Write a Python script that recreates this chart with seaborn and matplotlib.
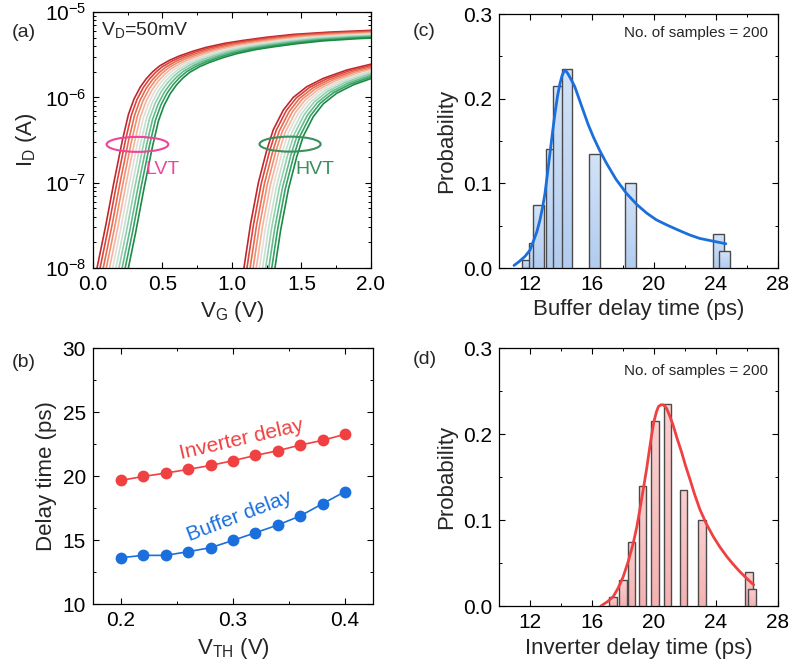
import numpy as np
import pandas as pd
import matplotlib
matplotlib.use("Agg")
import matplotlib.pyplot as plt
import seaborn as sns
from matplotlib.patches import Ellipse
from matplotlib.colors import LinearSegmentedColormap
from matplotlib.ticker import MultipleLocator, LogLocator, NullFormatter, FormatStrFormatter

# ------------------------------------------------
# data
# ------------------------------------------------

# (a) leftmost (lowest Vth) transfer curve of each family
lvt_vg = [0.000, 0.029, 0.092, 0.150, 0.212, 0.255, 0.295, 0.340, 0.384, 0.430, 0.480,
          0.550, 0.620, 0.720, 0.815, 0.950, 1.080, 1.250, 1.440, 1.700, 2.000]
lvt_id = [5.9e-9, 1.0e-8, 3.16e-8, 1.0e-7, 3.16e-7, 6.3e-7, 9.55e-7, 1.32e-6, 1.66e-6, 2.0e-6, 2.34e-6,
          2.72e-6, 3.05e-6, 3.48e-6, 3.86e-6, 4.31e-6, 4.65e-6, 5.07e-6, 5.47e-6, 5.82e-6, 6.10e-6]
hvt_vg = [1.058, 1.086, 1.134, 1.190, 1.250, 1.297, 1.369, 1.441, 1.537, 1.657, 1.825, 2.000]
hvt_id = [5.0e-9, 1.0e-8, 3.3e-8, 1.0e-7, 2.4e-7, 4.17e-7, 7.08e-7, 1.0e-6, 1.33e-6, 1.67e-6, 2.09e-6, 2.45e-6]
# per-curve Vth offset and on-current factor (red -> green)
vth_shift = [0.0, 0.021, 0.043, 0.064, 0.086, 0.108, 0.130, 0.151, 0.173, 0.194, 0.216]
ion_factor = [1.0, 0.983, 0.966, 0.950, 0.934, 0.918, 0.902, 0.886, 0.870, 0.855, 0.840]
curve_colors = ["#c0272d", "#d8453b", "#e76a50", "#f08e70", "#f5b59c", "#e6dcd8",
                "#c2e2cf", "#94cfae", "#62b98a", "#35a064", "#1b8a45"]

# (b) delay vs Vth
vth = [0.20, 0.22, 0.24, 0.26, 0.28, 0.30, 0.32, 0.34, 0.36, 0.38, 0.40]
inverter_delay = [19.66, 19.97, 20.23, 20.52, 20.83, 21.2, 21.61, 21.98, 22.42, 22.79, 23.26]
buffer_delay = [13.62, 13.8, 13.8, 14.09, 14.4, 14.97, 15.57, 16.17, 16.88, 17.84, 18.78]

# (c) buffer delay histogram + fit
buf_centers = [11.81, 12.30, 12.56, 13.38, 13.81, 14.39, 16.17, 18.49, 24.17, 24.56]
buf_prob = [0.01, 0.03, 0.075, 0.14, 0.215, 0.235, 0.135, 0.10, 0.04, 0.02]
buf_fit_x = [10.97, 11.3, 11.68, 12.0, 12.21, 12.45, 12.65, 12.82, 12.97, 13.13, 13.29,
             13.45, 13.61, 13.78, 13.94, 14.07, 14.19, 14.32, 14.47, 14.68, 14.9, 15.15,
             15.44, 15.75, 16.09, 16.5, 16.95, 17.55, 18.24, 18.9, 19.53, 20.15, 20.82,
             21.55, 22.32, 22.95, 23.61, 24.15, 24.65]
buf_fit_y = [0.003, 0.0075, 0.0137, 0.021, 0.031, 0.043, 0.057, 0.072, 0.088, 0.111, 0.135,
             0.159, 0.182, 0.203, 0.218, 0.227, 0.232, 0.233, 0.229, 0.222, 0.214, 0.201,
             0.186, 0.170, 0.155, 0.139, 0.1235, 0.105, 0.088, 0.075, 0.065, 0.057, 0.051,
             0.045, 0.039, 0.035, 0.0325, 0.0305, 0.0286]

# (d) inverter delay histogram + fit
inv_centers = [17.36, 18.0, 18.55, 19.27, 20.08, 20.89, 21.92, 23.11, 26.16, 26.36]
inv_prob = [0.01, 0.03, 0.075, 0.14, 0.215, 0.235, 0.135, 0.10, 0.04, 0.02]
inv_fit_x = [16.58, 17.0, 17.38, 17.7, 18.02, 18.35, 18.67, 18.9, 19.1, 19.32, 19.53, 19.7,
             19.85, 20.0, 20.17, 20.3, 20.45, 20.62, 20.82, 21.03, 21.25, 21.5, 21.79, 22.05,
             22.32, 22.63, 22.97, 23.38, 23.83, 24.25, 24.69, 25.1, 25.55, 26.0, 26.45]
inv_fit_y = [0.0, 0.005, 0.011, 0.021, 0.034, 0.052, 0.073, 0.092, 0.1125, 0.136, 0.159, 0.18,
             0.198, 0.214, 0.226, 0.232, 0.234, 0.234, 0.23, 0.221, 0.21, 0.195, 0.179, 0.163,
             0.148, 0.13, 0.1125, 0.096, 0.081, 0.069, 0.058, 0.049, 0.040, 0.032, 0.0246]

# ------------------------------------------------
# style
# ------------------------------------------------

sns.set_theme(style="ticks")
plt.rcParams["font.family"] = ["Liberation Sans", "DejaVu Sans"]
plt.rcParams.update({
    "mathtext.fontset": "custom",
    "mathtext.rm": "Liberation Sans",
    "mathtext.it": "Liberation Sans:italic",
    "mathtext.bf": "Liberation Sans:bold",
    "mathtext.default": "regular",
    "xtick.direction": "in",
    "ytick.direction": "in",
    "xtick.top": True,
    "ytick.right": True,
    "xtick.major.size": 4,
    "ytick.major.size": 4,
    "xtick.minor.size": 2.2,
    "ytick.minor.size": 2.2,
    "xtick.major.width": 0.8,
    "ytick.major.width": 0.8,
    "xtick.minor.width": 0.7,
    "ytick.minor.width": 0.7,
    "xtick.major.pad": 5,
    "ytick.major.pad": 5,
    "axes.linewidth": 0.9,
    "axes.edgecolor": "black",
    "xtick.color": "black",
    "ytick.color": "black",
    "xtick.labelsize": 15,
    "ytick.labelsize": 15,
    "axes.labelsize": 16,
})

RED = "#ef4141"
BLUE = "#1a6fdc"

fig = plt.figure(figsize=(7.92, 6.70), dpi=100)
ax_a = fig.add_axes([0.1174, 0.600, 0.351, 0.382])
ax_c = fig.add_axes([0.630, 0.600, 0.352, 0.379])
ax_b = fig.add_axes([0.1174, 0.0985, 0.3535, 0.382])
ax_d = fig.add_axes([0.630, 0.0955, 0.352, 0.385])

# ------------------------------------------------
# (a) transfer curves
# ------------------------------------------------

ax_a.set_yscale("log")
for base_vg, base_id in [(lvt_vg, lvt_id), (hvt_vg, hvt_id)]:
    rows = []
    for k, (dv, f) in enumerate(zip(vth_shift, ion_factor)):
        for v, i in zip(base_vg, base_id):
            rows.append({"curve": k, "vg": v + dv, "id": i * f})
    fam = pd.DataFrame(rows)
    sns.lineplot(data=fam, x="vg", y="id", hue="curve", palette=curve_colors,
                 estimator=None, sort=False, legend=False, linewidth=1.2, ax=ax_a)

ax_a.set_xlim(0, 2.0)
ax_a.set_ylim(1e-8, 1e-5)
ax_a.xaxis.set_major_locator(MultipleLocator(0.5))
ax_a.xaxis.set_minor_locator(MultipleLocator(0.25))
ax_a.xaxis.set_major_formatter(FormatStrFormatter("%.1f"))
ax_a.yaxis.set_minor_locator(LogLocator(base=10, subs=np.arange(2, 10)))
ax_a.yaxis.set_minor_formatter(NullFormatter())
ax_a.set_xlabel("V$_{G}$ (V)")
ax_a.set_ylabel("I$_{D}$ (A)")

ax_a.add_patch(Ellipse((0.160, 0.483), 0.222, 0.0586, transform=ax_a.transAxes,
                       fill=False, edgecolor="#f0449a", lw=1.5, zorder=5))
ax_a.add_patch(Ellipse((0.709, 0.484), 0.220, 0.0586, transform=ax_a.transAxes,
                       fill=False, edgecolor="#3a8f5e", lw=1.5, zorder=5))
ax_a.text(0.25, 0.383, "LVT", transform=ax_a.transAxes, color="#f0449a",
          fontsize=14, ha="center", va="center")
ax_a.text(0.80, 0.383, "HVT", transform=ax_a.transAxes, color="#3a8f5e",
          fontsize=14, ha="center", va="center")
ax_a.text(0.03, 0.93, "V$_{D}$=50mV", transform=ax_a.transAxes,
          fontsize=14, ha="left", va="center")

# ------------------------------------------------
# (b) delay vs Vth
# ------------------------------------------------

sns.lineplot(x=vth, y=inverter_delay, color=RED, marker="o", markersize=8.5,
             markeredgewidth=0, linewidth=1.2, ax=ax_b)
sns.lineplot(x=vth, y=buffer_delay, color=BLUE, marker="o", markersize=8.5,
             markeredgewidth=0, linewidth=1.2, ax=ax_b)
ax_b.set_xlim(0.175, 0.425)
ax_b.set_ylim(10, 30)
ax_b.xaxis.set_major_locator(MultipleLocator(0.1))
ax_b.xaxis.set_minor_locator(MultipleLocator(0.05))
ax_b.yaxis.set_major_locator(MultipleLocator(5))
ax_b.yaxis.set_minor_locator(MultipleLocator(2.5))
ax_b.xaxis.set_major_formatter(FormatStrFormatter("%.1f"))
ax_b.set_xlabel("V$_{TH}$ (V)")
ax_b.set_ylabel("Delay time (ps)")
ax_b.text(0.3074, 22.87, "Inverter delay", color=RED, fontsize=15,
          rotation=13, ha="center", va="center", rotation_mode="anchor")
ax_b.text(0.306, 16.875, "Buffer delay", color=BLUE, fontsize=15,
          rotation=21, ha="center", va="center", rotation_mode="anchor")

# ------------------------------------------------
# (c), (d) histograms
# ------------------------------------------------

grad = np.linspace(0, 1, 64).reshape(-1, 1)


def gradient_bars(ax, centers, heights, width, cmap):
    for i, (c, h) in enumerate(zip(centers, heights)):
        rect = ax.bar(c, h, width=width, facecolor="none", edgecolor="#4a4a4a",
                      linewidth=1.0, zorder=3 + 2 * i)[0]
        im = ax.imshow(grad, extent=[c - width / 2, c + width / 2, 0, h], origin="lower",
                       aspect="auto", cmap=cmap, zorder=2 + 2 * i)
        im.set_clip_path(rect)


def hist_axes(ax, xlabel):
    ax.set_xlim(10, 28)
    ax.set_ylim(0, 0.3)
    ax.xaxis.set_major_locator(MultipleLocator(4))
    ax.xaxis.set_minor_locator(MultipleLocator(2))
    ax.yaxis.set_major_locator(MultipleLocator(0.1))
    ax.yaxis.set_minor_locator(MultipleLocator(0.05))
    ax.xaxis.set_major_formatter(FormatStrFormatter("%d"))
    ax.yaxis.set_major_formatter(FormatStrFormatter("%.1f"))
    ax.xaxis.set_ticks([12, 16, 20, 24, 28])
    ax.set_xlabel(xlabel)
    ax.set_ylabel("Probability")


blue_cmap = LinearSegmentedColormap.from_list("bl", ["#b2ccef", "#d3e3f8"])
red_cmap = LinearSegmentedColormap.from_list("rd", ["#f4b2b2", "#fbcfcf"])

gradient_bars(ax_c, buf_centers, buf_prob, 0.69, blue_cmap)
sns.lineplot(x=buf_fit_x, y=buf_fit_y, color=BLUE, linewidth=2, ax=ax_c, zorder=50)
hist_axes(ax_c, "Buffer delay time (ps)")
ax_c.text(0.964, 0.927, "No. of samples = 200", transform=ax_c.transAxes,
          fontsize=11, ha="right", va="center")

gradient_bars(ax_d, inv_centers, inv_prob, 0.5, red_cmap)
sns.lineplot(x=inv_fit_x, y=inv_fit_y, color=RED, linewidth=2, ax=ax_d, zorder=50)
hist_axes(ax_d, "Inverter delay time (ps)")
ax_d.text(0.964, 0.911, "No. of samples = 200", transform=ax_d.transAxes,
          fontsize=11, ha="right", va="center")

# panel tags
fig.text(0.0152, 0.952, "(a)", fontsize=14, va="center")
fig.text(0.0152, 0.4597, "(b)", fontsize=14, va="center")
fig.text(0.5215, 0.9537, "(c)", fontsize=14, va="center")
fig.text(0.5215, 0.4634, "(d)", fontsize=14, va="center")

plt.savefig("out.png", dpi=100)
plt.close()
